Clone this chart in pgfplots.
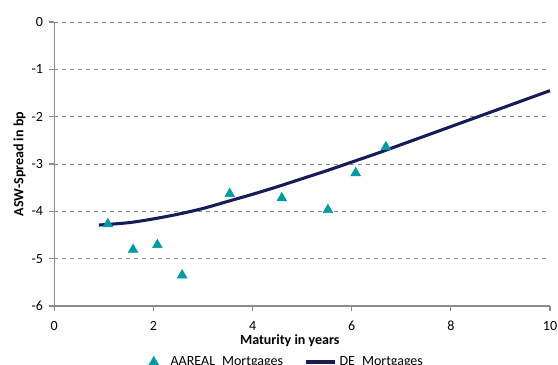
\documentclass[border=0pt]{standalone}
\usepackage{pgfplots}
\pgfplotsset{compat=1.18}
\usepackage{fontspec}
\setmainfont{Carlito}
\definecolor{tealm}{RGB}{0,155,160}
\definecolor{navyl}{RGB}{22,28,88}
\definecolor{gridg}{RGB}{140,140,140}
\begin{document}
\begin{tikzpicture}
\begin{axis}[
  scale only axis, width=371.8pt, height=213pt,
  xmin=0, xmax=10, ymin=-6, ymax=0,
  xtick={0,2,4,6,8,10}, xticklabels={0,2,4,6,8,10},
  ytick={-6,-5,-4,-3,-2,-1,0}, yticklabels={-6,-5,-4,-3,-2,-1,0},
  axis x line*=bottom, axis y line*=left,
  axis line style={gridg, line width=0.9pt},
  ymajorgrids, grid style={dashed, gridg, line width=0.7pt},
  tick style={gridg, line width=0.8pt},
  tick align=outside, major tick length=4pt,
  tick label style={font=\fontsize{10.5}{12}\selectfont},
  yticklabel style={xshift=-1pt},
  xticklabel style={yshift=-4pt},
  xlabel={\textbf{Maturity in years}},
  ylabel={\textbf{ASW-Spread in bp}},
  label style={font=\fontsize{10.5}{12}\selectfont},
  xlabel style={at={(axis description cs:0.475,0)}, anchor=north, yshift=-18pt},
  ylabel style={at={(axis description cs:0,0.5)}, anchor=south, xshift=0pt, yshift=18pt},
  legend columns=2,
  legend style={draw=none, fill=none, font=\fontsize{10.5}{12}\selectfont,
    at={(axis description cs:0.47,0)}, anchor=center, yshift=-42pt,
    /tikz/every even column/.append style={column sep=14pt},
    /tikz/every odd column/.append style={column sep=0pt}},
  legend cell align=left,
  clip=false,
]
\coordinate (bl) at (rel axis cs:0,0);
\coordinate (tr) at (rel axis cs:1,1);
\addplot[only marks, mark=triangle*, mark size=4.2pt, color=tealm, mark options={fill=tealm, draw=tealm}]
  coordinates {(1.08,-4.27) (1.59,-4.81) (2.08,-4.71) (2.58,-5.35) (3.54,-3.63)
               (4.59,-3.72) (5.52,-3.97) (6.08,-3.19) (6.69,-2.64)};
\addlegendentry{\hspace{7pt}AAREAL\_Mortgages}
\addplot[navyl, line width=2.3pt, smooth,
  legend image code/.code={\draw[navyl, line width=2.3pt] (0cm,0cm) -- (0.78cm,0cm);}]
  coordinates {(0.9,-4.29) (1.5,-4.24) (2,-4.16) (2.5,-4.06) (3,-3.94) (3.5,-3.79)
               (4,-3.64) (4.5,-3.48) (5,-3.31) (5.5,-3.14) (6,-2.96) (6.5,-2.78)
               (7,-2.59) (7.5,-2.40) (8,-2.21) (8.5,-2.02) (9,-1.83) (9.5,-1.64) (10,-1.45)};
\addlegendentry{DE\_Mortgages}
\end{axis}
\pgfresetboundingbox
\path[use as bounding box] ([xshift=-40.7pt,yshift=-44.25pt]bl) rectangle ([xshift=6pt,yshift=16.5pt]tr);
\end{tikzpicture}
\end{document}
